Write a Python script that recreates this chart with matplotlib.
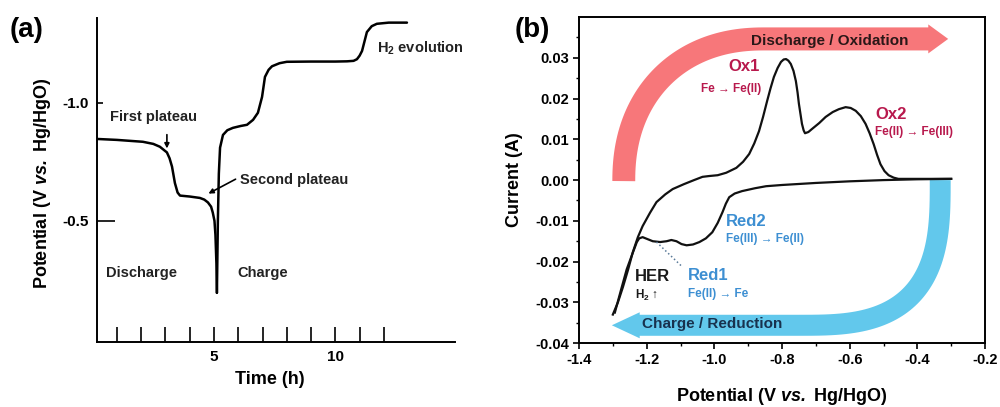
import numpy as np
import matplotlib.pyplot as plt

plt.rcParams['font.family'] = ['Liberation Sans', 'DejaVu Sans']
plt.rcParams['mathtext.fontset'] = 'custom'
plt.rcParams['mathtext.rm'] = 'Liberation Sans'
plt.rcParams['mathtext.bf'] = 'Liberation Sans:bold'
plt.rcParams['mathtext.it'] = 'Liberation Sans:italic'
plt.rcParams['mathtext.bfit'] = 'Liberation Sans:italic:bold'

# ---- panel (a): galvanostatic discharge / charge ----
t_dis = [0.18, 1.0, 2.07, 2.5, 2.77, 3.06, 3.17, 3.27, 3.39, 3.5, 3.6, 4.0, 4.42,
         4.6, 4.75, 4.88, 4.95, 5.02, 5.06, 5.10, 5.12]
v_dis = [-0.847, -0.843, -0.835, -0.826, -0.814, -0.79, -0.765, -0.73, -0.66, -0.62,
         -0.607, -0.603, -0.597, -0.59, -0.578, -0.56, -0.535, -0.50, -0.44, -0.32, -0.195]

t_chg = [5.12, 5.16, 5.2, 5.25, 5.37, 5.55, 5.78, 6.1, 6.36, 6.61, 6.81, 6.98, 7.1,
         7.25, 7.39, 7.7, 8.0, 9.0, 10.0, 10.48, 10.75, 10.89, 11.0, 11.1, 11.2, 11.3,
         11.5, 11.71, 12.2, 12.95]
v_chg = [-0.195, -0.5, -0.7, -0.81, -0.864, -0.884, -0.894, -0.902, -0.907, -0.928,
         -0.958, -1.025, -1.11, -1.14, -1.155, -1.168, -1.174, -1.175, -1.175, -1.176,
         -1.178, -1.185, -1.2, -1.22, -1.26, -1.30, -1.325, -1.335, -1.34, -1.34]

time_ticks = list(range(1, 13))
time_labels = ['5' if t == 5 else '10' if t == 10 else '' for t in time_ticks]

# ---- panel (b): cyclic voltammogram ----
E_ox = [-1.300, -1.285, -1.270, -1.255, -1.241, -1.226, -1.212, -1.19, -1.171, -1.145,
        -1.123, -1.09, -1.06, -1.035, -1.015, -0.99, -0.965, -0.935, -0.915, -0.897,
        -0.882, -0.868, -0.856, -0.844, -0.834, -0.824, -0.813, -0.803, -0.795, -0.788,
        -0.781, -0.774, -0.766, -0.759, -0.754, -0.750, -0.745, -0.741, -0.736, -0.732,
        -0.722, -0.712, -0.69, -0.671, -0.65, -0.632, -0.612, -0.597, -0.582, -0.567,
        -0.553, -0.541, -0.529, -0.519, -0.509, -0.497, -0.485, -0.47, -0.456, -0.42,
        -0.38, -0.34, -0.30]
I_ox = [-0.0330, -0.0300, -0.0262, -0.0220, -0.0177, -0.0140, -0.0113, -0.0080, -0.0054,
        -0.0035, -0.0022, -0.0010, 0.0000, 0.0008, 0.0010, 0.0012, 0.0018, 0.0030, 0.0045,
        0.0064, 0.0090, 0.0120, 0.0155, 0.0194, 0.0225, 0.0253, 0.0275, 0.0290, 0.0296,
        0.0297, 0.0293, 0.0285, 0.0268, 0.0243, 0.0215, 0.0187, 0.0160, 0.0138, 0.0122,
        0.0115, 0.0118, 0.0125, 0.0140, 0.0155, 0.0167, 0.0174, 0.0179, 0.0177, 0.0170,
        0.0157, 0.0138, 0.0115, 0.0088, 0.0062, 0.0039, 0.0022, 0.0012, 0.0006, 0.0003,
        0.0003, 0.0003, 0.0003, 0.0003]

E_red = [-0.30, -0.40, -0.50, -0.60, -0.70, -0.80, -0.847, -0.88, -0.918, -0.94, -0.956,
         -0.966, -0.976, -0.99, -1.006, -1.025, -1.044, -1.063, -1.082, -1.097, -1.112,
         -1.127, -1.141, -1.16, -1.182, -1.20, -1.212, -1.222, -1.229, -1.244, -1.259,
         -1.276, -1.294]
I_red = [0.0003, 0.0002, 0.0000, -0.0003, -0.0007, -0.0012, -0.0015, -0.0020, -0.0027,
         -0.0033, -0.0042, -0.0058, -0.0079, -0.0105, -0.0128, -0.0143, -0.0152, -0.0158,
         -0.0160, -0.0157, -0.0150, -0.0147, -0.0150, -0.0152, -0.0150, -0.0144, -0.0140,
         -0.0143, -0.0152, -0.0185, -0.0219, -0.0270, -0.0325]

ox_color = '#b8194d'
red_color = '#3d8fd2'

fig = plt.figure(figsize=(10, 4.07), dpi=100)

# ---------------- (a) ----------------
axa = fig.add_axes([0.097, 0.16, 0.358, 0.796])
axa.plot(t_dis, v_dis, color='black', lw=1.8, solid_capstyle='round')
axa.plot(t_chg, v_chg, color='black', lw=1.8, solid_capstyle='round')
axa.set_xlim(0.18, 14.93)
axa.set_ylim(0.013, -1.36)
for s in ['top', 'right']:
    axa.spines[s].set_visible(False)
for s in ['left', 'bottom']:
    axa.spines[s].set_linewidth(1.4)
axa.set_xticks(time_ticks)
axa.set_xticklabels(time_labels)
axa.set_yticks([-1.0, -0.5])
axa.set_yticklabels(['-1.0', '-0.5'])
axa.tick_params(axis='x', direction='in', length=11, width=1.2, pad=6, labelsize=11)
axa.tick_params(axis='y', direction='in', length=4, width=1.2, pad=6, labelsize=11)
axa.yaxis.get_major_ticks()[1].tick1line.set_markersize(13)
for lab in axa.get_xticklabels() + axa.get_yticklabels():
    lab.set_fontweight('bold')
axa.set_xlabel('Time (h)', fontsize=13, fontweight='bold')
axa.xaxis.set_label_coords(0.483, -0.09)
axa.set_ylabel(r'Potential (V $\mathbfit{vs.}$ Hg/HgO)', fontsize=13, fontweight='bold')
axa.yaxis.set_label_coords(-0.123, 0.49)

txt = dict(fontsize=10.5, fontweight='bold', va='center', ha='left', color='#222222')
axa.text(0.713, -0.941, 'First plateau', **txt)
axa.text(6.07, -0.674, 'Second plateau', **txt)
axa.text(0.55, -0.28, 'Discharge', **txt)
axa.text(5.95, -0.28, 'Charge', **txt)
axa.text(11.71, -1.233, r'H$_\mathbf{2}$ evolution', **txt)
axa.annotate('', xy=(3.06, -0.795), xytext=(3.06, -0.877),
             arrowprops=dict(arrowstyle='-|>', lw=1.2, color='black', mutation_scale=7))
axa.annotate('', xy=(4.67, -0.61), xytext=(5.99, -0.682),
             arrowprops=dict(arrowstyle='-|>', lw=1.2, color='black', mutation_scale=7))
fig.text(0.01, 0.926, '(a)', fontsize=20, fontweight='bold', va='center', ha='left')

# ---------------- (b) ----------------
axb = fig.add_axes([0.579, 0.157, 0.406, 0.801])
axb.set_xlim(-1.4, -0.2)
axb.set_ylim(-0.04, 0.04)


def px2data(px, py):
    return -1.4 + (px - 579) / 340.0, (181 - py) / 4070.0


def band(cx, cy, rx, ry, n, sx, sy, line_end, tip, hw, head_hw, color):
    th = np.linspace(0, np.pi / 2, 60)
    c = np.cos(th) ** (2.0 / n)
    s = np.sin(th) ** (2.0 / n)
    xs = cx + sx * rx * c
    ys = cy + sy * ry * s
    xs = np.append(xs, line_end)
    ys = np.append(ys, ys[-1])
    dx = np.gradient(xs)
    dy = np.gradient(ys)
    L = np.hypot(dx, dy)
    nx, ny = -dy / L, dx / L
    ux, uy = dx[-1] / L[-1], dy[-1] / L[-1]
    left = list(zip(xs + hw * nx, ys + hw * ny))
    right = list(zip(xs - hw * nx, ys - hw * ny))[::-1]
    ex, ey = xs[-1], ys[-1]
    head = [(ex + head_hw * nx[-1], ey + head_hw * ny[-1]),
            (ex + tip * ux, ey + tip * uy),
            (ex - head_hw * nx[-1], ey - head_hw * ny[-1])]
    pts = [px2data(p, q) for p, q in left + head + right]
    axb.fill([p[0] for p in pts], [p[1] for p in pts], color=color, lw=0, zorder=1)


band(765, 182, 141, 142, 2.2, -1, -1, 930, 20, 11.5, 14.5, '#f7777a')
band(800, 181, 142, 145, 3.0, 1, 1, 640, 28, 10.5, 13, '#62c8ec')

axb.plot(E_ox, I_ox, color='#111111', lw=1.6, zorder=3)
axb.plot(E_red, I_red, color='#111111', lw=1.6, zorder=3)
axb.plot([-1.171, -1.097], [-0.0152, -0.0211], color='#5a7a99', lw=1.1, ls=':', zorder=3)

axb.text(-0.659, 0.0342, 'Discharge / Oxidation', fontsize=11, fontweight='bold',
         color='#2a1717', ha='center', va='center', zorder=4)
axb.text(-1.215, -0.0354, 'Charge / Reduction', fontsize=11, fontweight='bold',
         color='#18324e', ha='left', va='center', zorder=4)

small = 8.5
axb.text(-0.912, 0.0278, 'Ox1', fontsize=12, fontweight='bold', color=ox_color,
         ha='center', va='center')
axb.text(-0.862, 0.0224, 'Fe → Fe(II)', fontsize=small, fontweight='bold', color=ox_color,
         ha='right', va='center')
axb.text(-0.524, 0.0162, 'Ox2', fontsize=12, fontweight='bold', color=ox_color,
         ha='left', va='center')
axb.text(-0.524, 0.0118, 'Fe(II) → Fe(III)', fontsize=small, fontweight='bold',
         color=ox_color, ha='left', va='center')
axb.text(-0.965, -0.0101, 'Red2', fontsize=12, fontweight='bold', color=red_color,
         ha='left', va='center')
axb.text(-0.965, -0.0145, 'Fe(III) → Fe(II)', fontsize=small, fontweight='bold',
         color=red_color, ha='left', va='center')
axb.text(-1.079, -0.0233, 'Red1', fontsize=12, fontweight='bold', color=red_color,
         ha='left', va='center')
axb.text(-1.079, -0.0280, 'Fe(II) → Fe', fontsize=small, fontweight='bold',
         color=red_color, ha='left', va='center')
axb.text(-1.235, -0.0236, 'HER', fontsize=12, fontweight='bold', color='#1a1a1a',
         ha='left', va='center')
axb.text(-1.235, -0.0283, r'H$_\mathbf{2}$ ↑', fontsize=small, fontweight='bold',
         color='#1a1a1a', ha='left', va='center')

axb.set_xticks(np.arange(-1.4, -0.19, 0.2))
axb.set_xticklabels(['-1.4', '-1.2', '-1.0', '-0.8', '-0.6', '-0.4', '-0.2'])
axb.set_yticks(np.arange(-0.04, 0.031, 0.01))
axb.set_yticklabels(['-0.04', '-0.03', '-0.02', '-0.01', '0.00', '0.01', '0.02', '0.03'])
axb.set_xticks(np.arange(-1.3, -0.2, 0.2), minor=True)
axb.set_yticks(np.arange(-0.035, 0.04, 0.01), minor=True)
axb.tick_params(which='major', direction='out', length=4, width=1.2, labelsize=10.5, pad=3)
axb.tick_params(which='minor', direction='out', length=2.5, width=1.0)
for lab in axb.get_xticklabels() + axb.get_yticklabels():
    lab.set_fontweight('bold')
for s in axb.spines.values():
    s.set_linewidth(1.4)
axb.set_xlabel(r'Potential (V $\mathbfit{vs.}$ Hg/HgO)', fontsize=13, fontweight='bold')
axb.xaxis.set_label_coords(0.5, -0.132)
axb.set_ylabel('Current (A)', fontsize=13, fontweight='bold')
axb.yaxis.set_label_coords(-0.138, 0.5)
fig.text(0.515, 0.926, '(b)', fontsize=20, fontweight='bold', va='center', ha='left')

fig.savefig('out.png', dpi=100)
